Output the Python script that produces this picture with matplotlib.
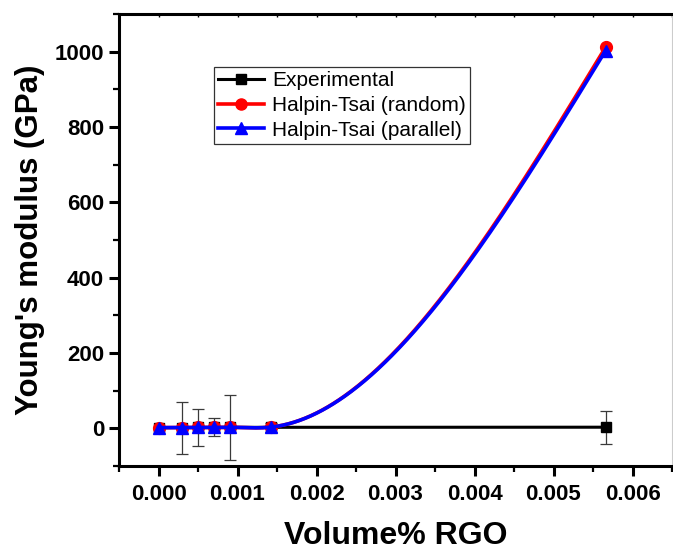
import numpy as np
import matplotlib
matplotlib.use("Agg")
import matplotlib.pyplot as plt
from matplotlib.ticker import MultipleLocator

plt.rcParams['font.family'] = ['Liberation Sans', 'DejaVu Sans']

# Volume fraction of RGO
vol_rgo = [0.0, 0.0003, 0.0005, 0.0007, 0.0009, 0.00142, 0.00566]

# Young's modulus (GPa)
exp_modulus = [1.9, 2.1, 2.3, 2.4, 2.5, 2.7, 3.0]
exp_error = [0.0, 69.0, 49.0, 24.0, 86.0, 12.0, 44.0]
ht_random = [1.9, 2.2, 2.4, 2.6, 2.8, 3.2, 1012.0]
ht_parallel = [1.9, 2.2, 2.4, 2.6, 2.8, 3.2, 1003.0]

labels = ["Experimental", "Halpin-Tsai (random)", "Halpin-Tsai (parallel)"]


def spline_path(x, y, n=400):
    """Natural cubic spline through (x, y), sampled for a smooth connecting line."""
    x = np.asarray(x, float)
    y = np.asarray(y, float)
    h = np.diff(x)
    m = len(x)
    A = np.zeros((m, m))
    r = np.zeros(m)
    A[0, 0] = A[-1, -1] = 1.0
    for i in range(1, m - 1):
        A[i, i - 1] = h[i - 1]
        A[i, i] = 2 * (h[i - 1] + h[i])
        A[i, i + 1] = h[i]
        r[i] = 6 * ((y[i + 1] - y[i]) / h[i] - (y[i] - y[i - 1]) / h[i - 1])
    M = np.linalg.solve(A, r)
    xs = np.linspace(x[0], x[-1], n)
    idx = np.clip(np.searchsorted(x, xs) - 1, 0, m - 2)
    x0, x1 = x[idx], x[idx + 1]
    hh = x1 - x0
    a = (x1 - xs) / hh
    b = (xs - x0) / hh
    ys = (a * y[idx] + b * y[idx + 1]
          + ((a ** 3 - a) * M[idx] + (b ** 3 - b) * M[idx + 1]) * hh ** 2 / 6)
    return xs, ys


fig = plt.figure(figsize=(6.73, 5.5), dpi=100)
ax = fig.add_axes([119 / 673, 1 - 466 / 550, 553 / 673, 452 / 550])

# Experimental data with error bars
ax.errorbar(vol_rgo, exp_modulus, yerr=exp_error, fmt='none', ecolor='#3a3a3a',
            elinewidth=0.9, capsize=4, capthick=0.9, zorder=2)
ax.plot(vol_rgo, exp_modulus, color='black', lw=2.2, zorder=3)
ax.plot(vol_rgo, exp_modulus, 's', color='black', ms=6.5, zorder=3)

# Halpin-Tsai predictions
xr, yr = spline_path(vol_rgo, ht_random)
ax.plot(xr, yr, color='#ff0000', lw=2.6, zorder=4)
ax.plot(vol_rgo, ht_random, 'o', color='#ff0000', ms=8.5, zorder=4)
xp, yp = spline_path(vol_rgo, ht_parallel)
ax.plot(xp, yp, color='#0000ff', lw=2.6, zorder=5)
ax.plot(vol_rgo, ht_parallel, '^', color='#0000ff', ms=9, zorder=5)

# Legend proxies
h_exp, = ax.plot([], [], '-s', color='black', lw=2.2, ms=6.5)
h_ran, = ax.plot([], [], '-o', color='#ff0000', lw=2.6, ms=8)
h_par, = ax.plot([], [], '-^', color='#0000ff', lw=2.6, ms=8.5)
leg = ax.legend([h_exp, h_ran, h_par], labels, loc='upper left',
                bbox_to_anchor=(0.172, 0.883), borderaxespad=0,
                fontsize=15, frameon=True, fancybox=False, shadow=False,
                handlelength=2.2, handletextpad=0.4, labelspacing=0.28,
                borderpad=0.2)
leg.get_frame().set_edgecolor('black')
leg.get_frame().set_linewidth(0.9)

ax.set_xlim(-0.0005, 0.0065)
ax.set_ylim(-100, 1100)
ax.xaxis.set_major_locator(MultipleLocator(0.001))
ax.xaxis.set_minor_locator(MultipleLocator(0.0005))
ax.yaxis.set_major_locator(MultipleLocator(200))
ax.yaxis.set_minor_locator(MultipleLocator(100))
ax.xaxis.set_major_formatter(plt.FuncFormatter(lambda v, p: f"{v:.3f}"))

for s in ['left', 'bottom', 'top']:
    ax.spines[s].set_linewidth(2.2)
ax.spines['right'].set_linewidth(0.8)
ax.spines['right'].set_color('#cccccc')

ax.tick_params(axis='both', which='major', direction='out', length=7.2, width=2.2,
               labelsize=16)
ax.tick_params(axis='y', which='major', pad=3.5)
ax.tick_params(axis='x', which='major', pad=6)
ax.tick_params(axis='both', which='minor', direction='out', length=4, width=1.6)
for lab in ax.get_xticklabels() + ax.get_yticklabels():
    lab.set_fontweight('bold')

# small inward ticks along the top edge
top = ax.secondary_xaxis('top')
top.xaxis.set_major_locator(MultipleLocator(0.0005))
top.tick_params(direction='in', length=2.5, width=1.0, labeltop=False)
top.spines['top'].set_visible(False)

ax.set_xlabel("Volume% RGO", fontsize=23, fontweight='bold', labelpad=11)
ax.set_ylabel("Young's modulus (GPa)", fontsize=22.5, fontweight='bold', labelpad=7)

fig.savefig("out.png", dpi=100)
